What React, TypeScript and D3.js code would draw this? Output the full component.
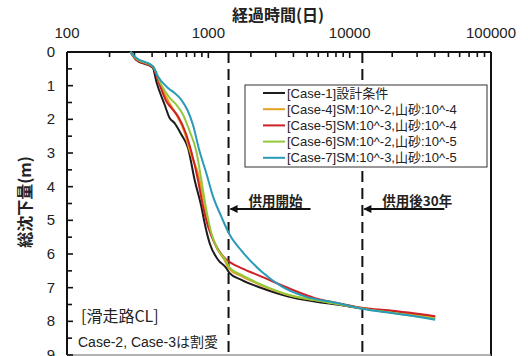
import React from "react";
import * as d3 from "d3";

// 経過時間(日) と 総沈下量(m)  -- 図から読み取り
const case1Days = [281, 308, 405, 428, 490, 532, 577, 644, 718, 800, 892, 941, 1022, 1171, 1342, 1409, 1714, 2376, 3675, 5675, 8318, 12850, 18800, 26060, 40270];
const case1Settle = [0, 0.23, 0.47, 0.87, 1.56, 1.96, 2.11, 2.45, 2.85, 3.8, 4.59, 5.08, 5.68, 6.17, 6.42, 6.56, 6.77, 7.01, 7.26, 7.41, 7.51, 7.63, 7.71, 7.8, 7.89];

const case4Days = [281, 308, 405, 458, 522, 575, 680, 740, 868, 940, 1020, 1140, 1300, 1409, 1714, 2376, 3675, 5675, 8318, 12850, 18800, 26060, 40270];
const case4Settle = [0, 0.21, 0.44, 0.97, 1.46, 1.76, 2.4, 2.95, 3.8, 4.64, 5.28, 5.8, 6.18, 6.45, 6.66, 6.93, 7.22, 7.37, 7.48, 7.62, 7.72, 7.8, 7.89];

const case5Days = [281, 308, 405, 452, 504, 547, 610, 698, 757, 845, 916, 995, 1109, 1271, 1455, 1714, 2376, 3675, 5675, 8318, 12850, 18800, 26060, 40270];
const case5Settle = [0, 0.22, 0.45, 0.97, 1.46, 1.66, 1.91, 2.45, 2.95, 3.8, 4.59, 5.18, 5.68, 6.07, 6.27, 6.42, 6.67, 7.01, 7.31, 7.46, 7.61, 7.67, 7.74, 7.85];

const case6Days = [281, 310, 405, 464, 532, 593, 662, 737, 822, 892, 968, 1050, 1171, 1342, 1409, 1714, 2376, 3675, 5675, 8318, 12850, 18800, 26060, 40270];
const case6Settle = [0, 0.2, 0.42, 0.97, 1.36, 1.56, 1.86, 2.35, 2.95, 3.8, 4.69, 5.38, 5.88, 6.22, 6.4, 6.62, 6.91, 7.21, 7.37, 7.49, 7.63, 7.73, 7.82, 7.92];

const case7Days = [281, 310, 405, 439, 518, 577, 644, 718, 778, 867, 968, 1079, 1236, 1416, 1714, 2376, 3296, 4819, 8318, 12850, 18800, 26060, 40270];
const case7Settle = [0, 0.18, 0.42, 0.72, 1.07, 1.22, 1.42, 1.76, 2.16, 2.95, 3.6, 4.29, 4.89, 5.43, 5.9, 6.52, 6.96, 7.26, 7.46, 7.64, 7.74, 7.82, 7.95];

const seriesNames = [
  "[Case-1]設計条件",
  "[Case-4]SM:10^-2,山砂:10^-4",
  "[Case-5]SM:10^-3,山砂:10^-4",
  "[Case-6]SM:10^-2,山砂:10^-5",
  "[Case-7]SM:10^-3,山砂:10^-5",
];
const seriesColors = ["#1c1c1c", "#e6a020", "#d01f25", "#93c83a", "#2b9ab8"];
const seriesDays = [case1Days, case4Days, case5Days, case6Days, case7Days];
const seriesSettle = [case1Settle, case4Settle, case5Settle, case6Settle, case7Settle];

const xTickLabels = [100, 1000, 10000, 100000];
const yTickLabels = [0, 1, 2, 3, 4, 5, 6, 7, 8, 9];
const markerDays = [1390, 12300]; // 供用開始, 供用後30年
const markerLabels = ["供用開始", "供用後30年"];

const W = 528;
const H = 356;
const left = 67;
const right = 491;
const top = 52;
const bottom = 355;

const jp = "'Noto Sans CJK JP', 'Noto Sans', sans-serif";
const num = "'Liberation Sans', Arial, 'Noto Sans CJK JP', sans-serif";

const App = () => {
  const x = d3.scaleLog().domain([100, 100000]).range([left, right]);
  const y = d3.scaleLinear().domain([0, 9]).range([top, bottom]);

  const line = d3
    .line<[number, number]>()
    .x((d) => x(d[0]))
    .y((d) => y(d[1]))
    .curve(d3.curveMonotoneX);

  // 目盛り（内向き）
  const xMinor = x.ticks().filter((t) => !xTickLabels.includes(t));
  const yMinor = d3.range(0.5, 9, 1);

  return (
    <svg
      width={W}
      height={H}
      style={{ position: "absolute", left: 0, top: 0, background: "#fff" }}
    >
      {/* title */}
      <text x={278} y={21} textAnchor="middle" fontFamily={jp} fontSize={16} fontWeight="bold" fill="#222">
        経過時間(日)
      </text>
      {xTickLabels.map((t) => (
        <text key={t} x={x(t)} y={38} textAnchor="middle" fontFamily={num} fontSize={15} fill="#222">
          {t}
        </text>
      ))}
      {yTickLabels.map((t) => (
        <text key={t} x={55} y={y(t) + 5} textAnchor="end" fontFamily={num} fontSize={15} fill="#222">
          {t}
        </text>
      ))}
      <text
        transform={`translate(31,202) rotate(-90)`}
        textAnchor="middle"
        fontFamily={jp}
        fontSize={16}
        fontWeight="bold"
        fill="#222"
      >
        総沈下量(m)
      </text>

      {/* frame */}
      <line x1={left} x2={left} y1={top} y2={bottom} stroke="#111" strokeWidth={2} />
      <line x1={left} x2={right} y1={top} y2={top} stroke="#111" strokeWidth={2} />
      <line x1={right} x2={right} y1={top} y2={H} stroke="#111" strokeWidth={2} />
      <line x1={left} x2={right} y1={bottom} y2={bottom} stroke="#999" strokeWidth={1.5} />

      {xTickLabels.map((t) => (
        <line key={"xm" + t} x1={x(t)} x2={x(t)} y1={top} y2={top + 6} stroke="#111" strokeWidth={1.6} />
      ))}
      {xMinor.map((t) => (
        <line key={"xn" + t} x1={x(t)} x2={x(t)} y1={top} y2={top + 5} stroke="#111" strokeWidth={1.6} />
      ))}
      {yTickLabels.map((t) => (
        <line key={"ym" + t} x1={left} x2={left + 6} y1={y(t)} y2={y(t)} stroke="#111" strokeWidth={1.6} />
      ))}
      {yMinor.map((t) => (
        <line key={"yn" + t} x1={left} x2={left + 5} y1={y(t)} y2={y(t)} stroke="#111" strokeWidth={1.6} />
      ))}

      {/* 供用開始 / 供用後30年 */}
      {markerDays.map((d, i) => (
        <g key={"mk" + i}>
          <line x1={x(d)} x2={x(d)} y1={top} y2={bottom} stroke="#111" strokeWidth={2} strokeDasharray="11,6" />
          <line x1={x(d) + 2} x2={x(d) + 82} y1={209} y2={209} stroke="#111" strokeWidth={2} />
          <path
            d={`M${x(d) + 1},209 L${x(d) + 9},205 L${x(d) + 9},213 Z`}
            fill="#111"
          />
          <text x={x(d) + 20} y={206} fontFamily={jp} fontSize={13.5} fontWeight="bold" fill="#222">
            {markerLabels[i]}
          </text>
        </g>
      ))}

      {/* curves */}
      {seriesDays.map((days, i) => (
        <path
          key={"s" + i}
          d={line(days.map((d, k) => [d, seriesSettle[i][k]] as [number, number])) || ""}
          fill="none"
          stroke={seriesColors[i]}
          strokeWidth={2}
          strokeLinejoin="round"
        />
      ))}

      {/* legend */}
      <rect x={245} y={85} width={242} height={82} fill="#fff" stroke="#333" strokeWidth={1} />
      {seriesNames.map((n, i) => (
        <g key={"lg" + i} transform={`translate(0,${93 + i * 16.2})`}>
          <line x1={263} x2={285} y1={0} y2={0} stroke={seriesColors[i]} strokeWidth={2} />
          <text x={287} y={4.5} fontFamily={num} fontSize={13} fill="#222">
            {n}
          </text>
        </g>
      ))}

      <text x={81} y={322} fontFamily={jp} fontSize={16} fill="#222">
        [滑走路CL]
      </text>
      <text x={78} y={347} fontFamily={num} fontSize={14} fill="#222">
        Case-2, Case-3は割愛
      </text>
    </svg>
  );
};

export default App;
